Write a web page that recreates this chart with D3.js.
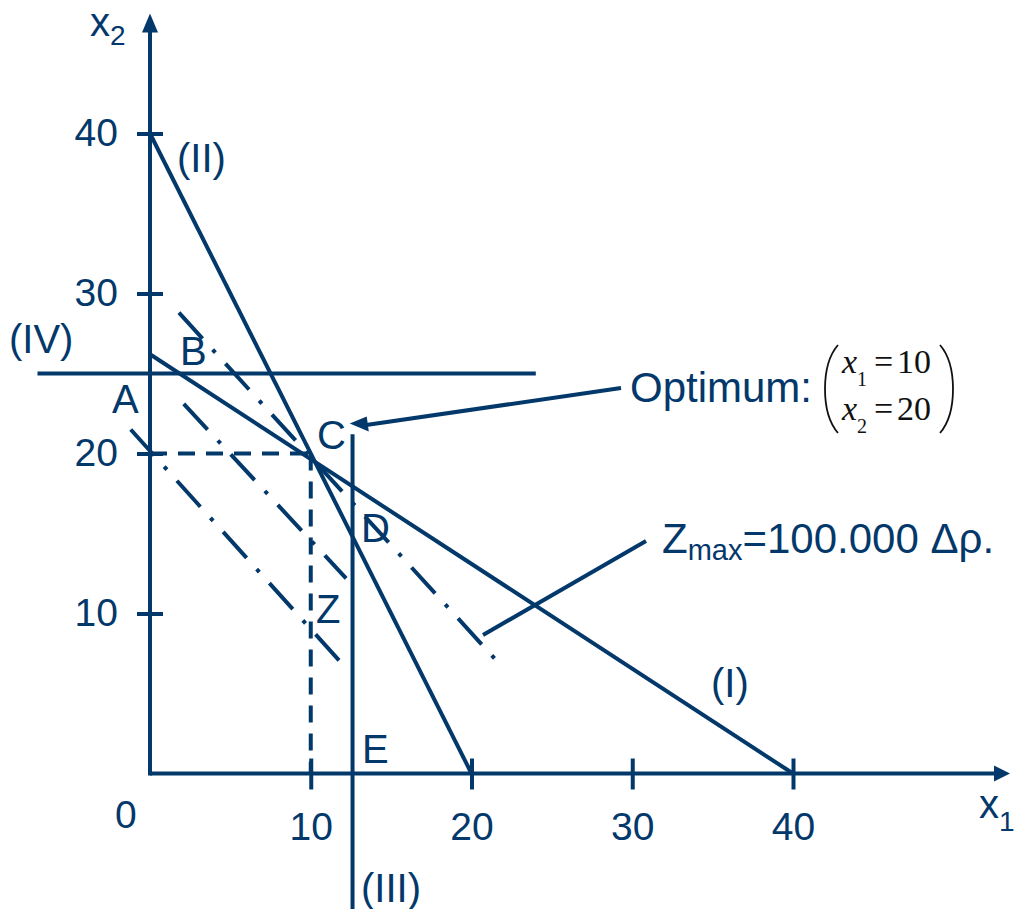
<!DOCTYPE html>
<html>
<head>
<meta charset="utf-8">
<script src="https://cdn.jsdelivr.net/npm/d3@7"></script>
<style>
  body { margin: 0; background: #fff; }
  svg { display: block; }
</style>
</head>
<body>
<div id="chart"></div>
<script>
// values (x1, x2 units)
const xTicks = [10, 20, 30, 40];
const yTicks = [10, 20, 30, 40];
const axisEnd = [53.5, 47.5];

const lineI = [[0, 26.2], [40, 0]];
const lineII = [[0, 40], [20, 0]];
const lineIII = [[12.6, 21.2], [12.6, -8.6]];
const lineIV = [[-7, 25], [24, 25]];

const guideH = [[0, 20], [10, 20]];
const guideV = [[10, 20], [10, 0]];

const isoZmax = [[1.8, 28.8], [21.7, 6.9]];
const isoMid = [[2.1, 23.1], [12.2, 12.2]];
const isoLow = [[-1.2, 21.5], [12.0, 6.8]];

const optimum = [10, 20];
const zmaxText = "=100.000 Δρ.";

const col = "#03386b";
const sans = "'Liberation Sans', Arial, sans-serif";
const serif = "'Liberation Serif', 'Times New Roman', serif";

let svg = d3.select("#chart")
  .append("svg")
  .attr("width", 1014)
  .attr("height", 909)
  .style("background-color", "#fff");

let x = d3.scaleLinear().domain([0, 40]).range([150, 793]);
let y = d3.scaleLinear().domain([0, 40]).range([773.5, 133.5]);

let line = d3.line()
  .x(d => x(d[0]))
  .y(d => y(d[1]));

let g = svg.append("g");

// axis lines with arrow heads
let xEnd = x(axisEnd[0]), yEnd = y(axisEnd[1]);
g.append("line")
  .attr("x1", x(0)).attr("y1", y(0))
  .attr("x2", xEnd - 12).attr("y2", y(0))
  .attr("stroke", col).attr("stroke-width", 4);
g.append("path")
  .attr("d", `M${xEnd},${y(0)} L${xEnd - 16},${y(0) - 8} L${xEnd - 16},${y(0) + 8} Z`)
  .attr("fill", col);
g.append("line")
  .attr("x1", x(0)).attr("y1", y(0) + 2)
  .attr("x2", x(0)).attr("y2", yEnd + 14)
  .attr("stroke", col).attr("stroke-width", 4);
g.append("path")
  .attr("d", `M${x(0)},${yEnd} L${x(0) - 8},${yEnd + 19} L${x(0) + 8},${yEnd + 19} Z`)
  .attr("fill", col);

// ticks via d3 axes, domain path removed, ticks made to cross the axis
let xAxis = g.append("g")
  .attr("transform", `translate(0,${y(0)})`)
  .call(d3.axisBottom(x).tickValues(xTicks).tickSize(16).tickPadding(23));
let yAxis = g.append("g")
  .attr("transform", `translate(${x(0)},0)`)
  .call(d3.axisLeft(y).tickValues(yTicks).tickSize(13).tickPadding(19));

[xAxis, yAxis].forEach(a => {
  a.select(".domain").remove();
  a.selectAll(".tick line").attr("stroke", col).attr("stroke-width", 4);
  a.selectAll(".tick text")
    .attr("fill", col)
    .style("font-family", sans)
    .style("font-size", "39px");
});
xAxis.selectAll(".tick line").attr("y1", -15);
yAxis.selectAll(".tick line").attr("x1", 13);

// constraint lines
[lineI, lineII, lineIII, lineIV].forEach(d => {
  g.append("path")
    .attr("d", line(d))
    .attr("fill", "none")
    .attr("stroke", col)
    .attr("stroke-width", 4);
});

// dashed guides to the optimum
[guideH, guideV].forEach(d => {
  g.append("path")
    .attr("d", line(d))
    .attr("fill", "none")
    .attr("stroke", col)
    .attr("stroke-width", 4)
    .attr("stroke-dasharray", "17,11");
});

// objective function lines (dash-dot)
[isoZmax, isoMid, isoLow].forEach(d => {
  g.append("path")
    .attr("d", line(d))
    .attr("fill", "none")
    .attr("stroke", col)
    .attr("stroke-width", 4)
    .attr("stroke-dasharray", "35,15,4,15");
});

// pointer to the optimum
let cx = x(optimum[0]), cy = y(optimum[1]);
g.append("line")
  .attr("x1", 621).attr("y1", 388)
  .attr("x2", cx + 52).attr("y2", cy - 28)
  .attr("stroke", col).attr("stroke-width", 4);
g.append("path")
  .attr("d", `M${cx + 39},${cy - 30} L${cx + 56},${cy - 37} L${cx + 58},${cy - 22} Z`)
  .attr("fill", col);

// pointer to Zmax line
g.append("line")
  .attr("x1", 483).attr("y1", 635)
  .attr("x2", 646).attr("y2", 541)
  .attr("stroke", col).attr("stroke-width", 4);

// text labels
function label(t, px, py, size) {
  return g.append("text")
    .attr("x", px).attr("y", py)
    .attr("fill", col)
    .style("font-family", sans)
    .style("font-size", (size || 40) + "px")
    .text(t);
}

label("(II)", 177, 172);
label("(IV)", 9, 353);
label("B", 180, 365);
label("A", 112, 413);
label("C", 317, 449);
label("D", 361, 542);
label("Z", 316, 623);
label("E", 362, 763);
label("(III)", 361, 902);
label("(I)", 711, 697);
label("0", 115, 828, 39);

let x2l = label("x", 90, 36);
x2l.append("tspan").attr("dy", 9).style("font-size", "28px").text("2");
let x1l = label("x", 979, 818);
x1l.append("tspan").attr("dy", 13).style("font-size", "28px").text("1");

label("Optimum:", 630, 402, 42);
let zl = label("Z", 662, 553, 42);
zl.append("tspan").attr("dy", 7).style("font-size", "29px").text("max");
zl.append("tspan").attr("dy", -7).text(zmaxText);

// optimum vector
let m = svg.append("g").attr("fill", "#111");
function mrow(sub, val, py) {
  let t = m.append("text")
    .attr("x", 842).attr("y", py)
    .style("font-family", serif)
    .style("font-size", "34px");
  t.append("tspan").style("font-style", "italic").text("x");
  t.append("tspan").attr("dy", 13).style("font-size", "20px").text(sub);
  t.append("tspan").attr("x", 874).attr("dy", -13).text("=");
  t.append("tspan").attr("x", 897).text(val);
}
mrow("1", "10", 373);
mrow("2", "20", 420);

m.append("path")
  .attr("d", "M838,345 Q825,360 825,389 Q825,418 838,433")
  .attr("fill", "none").attr("stroke", "#111").attr("stroke-width", 1.8);
m.append("path")
  .attr("d", "M940,345 Q953,360 953,389 Q953,418 940,433")
  .attr("fill", "none").attr("stroke", "#111").attr("stroke-width", 1.8);
</script>
</body>
</html>
